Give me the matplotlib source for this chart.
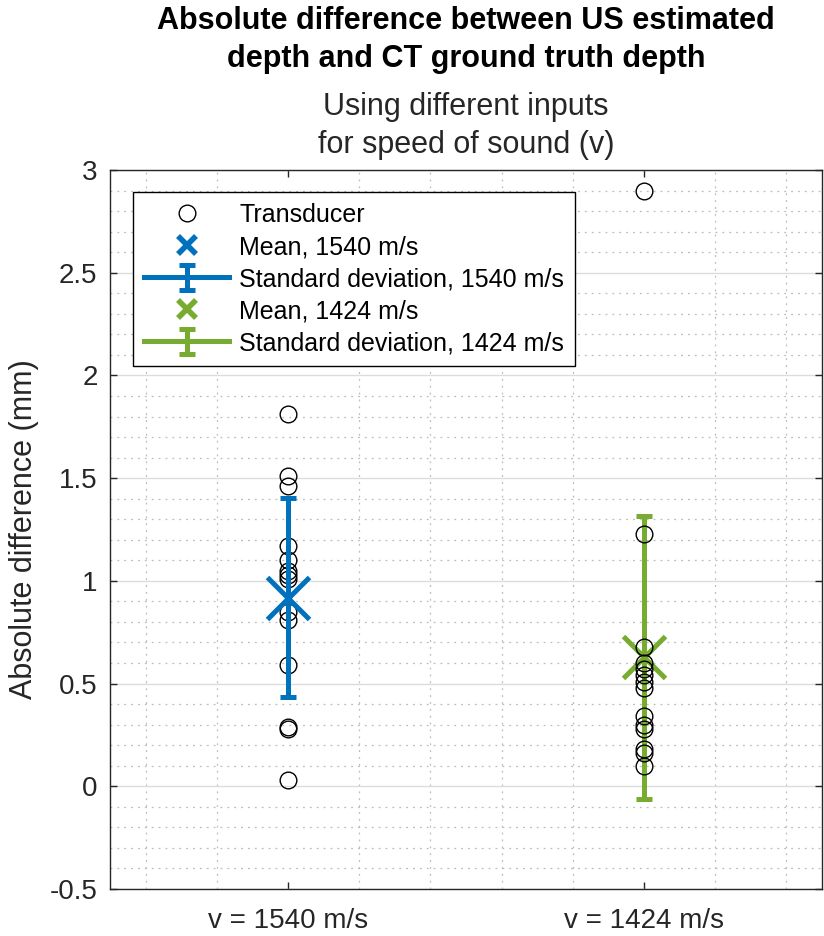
import matplotlib
matplotlib.use("Agg")
import matplotlib.pyplot as plt
from matplotlib.lines import Line2D
from matplotlib.ticker import MultipleLocator

plt.rcParams['font.family'] = ['Liberation Sans', 'DejaVu Sans']

# values
x_pos = [1, 2]
x_labels = ['v = 1540 m/s', 'v = 1424 m/s']
diff_1540 = [1.81, 1.51, 1.46, 1.17, 1.10, 1.05, 1.03, 1.01, 0.85, 0.81, 0.59, 0.29, 0.28, 0.03]
diff_1424 = [2.90, 1.23, 0.68, 0.60, 0.57, 0.54, 0.51, 0.48, 0.34, 0.30, 0.28, 0.18, 0.16, 0.10]
mean_vals = [0.918, 0.627]
std_vals = [0.484, 0.687]

blue = '#0072BD'
green = '#77AC30'
axcol = '#262626'

fig = plt.figure(figsize=(8.24, 9.36), dpi=100)
ax = fig.add_axes([110 / 824, 47 / 936, 712 / 824, 719 / 936])

# green group sits under the transducer circles, blue group above
ax.errorbar([x_pos[1]], [mean_vals[1]], yerr=[std_vals[1]], fmt='-', color=green, lw=3.6,
            ecolor=green, elinewidth=3.6, capsize=6, capthick=3.6, zorder=3)
ax.plot([x_pos[1]], [mean_vals[1]], 'x', color=green, markersize=30, mew=3.6, zorder=3)

ax.plot([x_pos[0]] * len(diff_1540), diff_1540, 'o', mfc='none', mec='black',
        markersize=12, mew=1.0, zorder=4)
ax.plot([x_pos[1]] * len(diff_1424), diff_1424, 'o', mfc='none', mec='black',
        markersize=12, mew=1.0, zorder=4)

ax.errorbar([x_pos[0]], [mean_vals[0]], yerr=[std_vals[0]], fmt='-', color=blue, lw=3.6,
            ecolor=blue, elinewidth=3.6, capsize=6, capthick=3.6, zorder=5)
ax.plot([x_pos[0]], [mean_vals[0]], 'x', color=blue, markersize=30, mew=3.6, zorder=5)

ax.set_xlim(0.5, 2.5)
ax.set_ylim(-0.5, 3)
ax.set_xticks(x_pos)
ax.set_xticklabels(x_labels)
ax.set_yticks([-0.5, 0, 0.5, 1, 1.5, 2, 2.5, 3])
ax.set_yticklabels(['-0.5', '0', '0.5', '1', '1.5', '2', '2.5', '3'])
ax.xaxis.set_minor_locator(MultipleLocator(0.2))
ax.yaxis.set_minor_locator(MultipleLocator(0.1))

ax.set_axisbelow(True)
ax.grid(True, which='major', axis='y', color='#dcdcdc', lw=1.0, ls='-')
ax.grid(True, which='minor', axis='both', color='#bdbdbd', lw=0.9, ls=(0, (1.5, 4)))

ax.tick_params(which='major', direction='in', length=5, width=1, top=True, right=True,
               colors=axcol, labelsize=20)
ax.tick_params(axis='y', which='major', pad=9)
ax.tick_params(axis='x', which='major', pad=14)
ax.tick_params(which='minor', length=0, top=True, right=True)
for s in ax.spines.values():
    s.set_color(axcol)
    s.set_linewidth(1.0)

ax.set_ylabel('Absolute difference (mm)', fontsize=22, color=axcol, labelpad=8)

cx = (110 + 356) / 824
fig.text(cx, 1 - 29 / 936, 'Absolute difference between US estimated', ha='center',
         va='baseline', fontsize=22, fontweight='bold')
fig.text(cx, 1 - 67 / 936, 'depth and CT ground truth depth', ha='center',
         va='baseline', fontsize=22, fontweight='bold')
fig.text(cx, 1 - 115 / 936, 'Using different inputs', ha='center', va='baseline',
         fontsize=22, color=axcol)
fig.text(cx, 1 - 153 / 936, 'for speed of sound (v)', ha='center', va='baseline',
         fontsize=22, color=axcol)

h_circ = Line2D([], [], marker='o', ls='none', mfc='none', mec='black', markersize=12, mew=1.0)
h_mean_b = Line2D([], [], marker='x', ls='none', color=blue, markersize=13, mew=4)
h_mean_g = Line2D([], [], marker='x', ls='none', color=green, markersize=13, mew=4)
h_err_b = ax.containers[1]
h_err_g = ax.containers[0]

leg = ax.legend([h_circ, h_mean_b, h_err_b, h_mean_g, h_err_g],
                ['Transducer', 'Mean, 1540 m/s', 'Standard deviation, 1540 m/s',
                 'Mean, 1424 m/s', 'Standard deviation, 1424 m/s'],
                loc='upper left', bbox_to_anchor=(23 / 712, 1 - 22 / 719),
                borderaxespad=0, fontsize=18, frameon=True, fancybox=False,
                edgecolor='black', framealpha=1, handlelength=3.4, handletextpad=0.4,
                borderpad=0.45, labelspacing=0.32)
leg.get_frame().set_linewidth(1.0)
leg.set_zorder(10)

fig.savefig('out.png', dpi=100)
